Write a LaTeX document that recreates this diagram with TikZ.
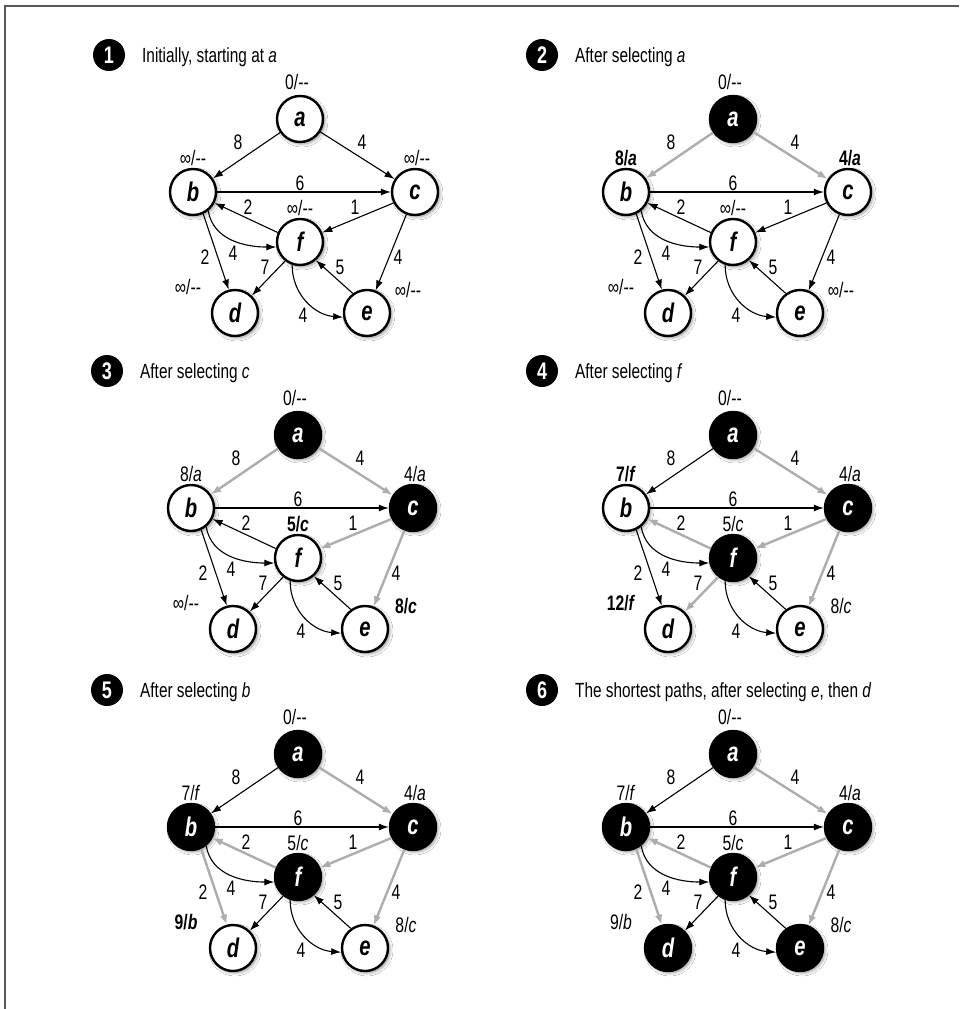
\documentclass[tikz,border=0pt]{standalone}
\usepackage{fontspec}
\setmainfont{Liberation Sans}[FakeStretch=0.75]
\usetikzlibrary{arrows.meta,shadows,shadows.blur}
\newcommand\nodash{-{}-}
\newcommand\infdist{∞/\nodash}
\tikzset{
  x=1pt,y=-1pt,
  vtx/.style={circle,draw=black,line width=2.4pt,minimum size=46pt,inner sep=0pt,
    font=\fontsize{27}{27}\selectfont\bfseries\itshape,
    blur shadow={shadow xshift=2pt,shadow yshift=-2pt,shadow blur radius=3pt,
      shadow blur steps=6,shadow opacity=40}},
  wnode/.style={vtx,fill=white,text=black},
  bnode/.style={vtx,fill=black,text=white},
  bedge/.style={draw=black,line width=1.1pt,-{Latex[length=10pt,width=7pt]}},
  gedge/.style={draw=black!32,line width=2.4pt,-{Latex[length=10pt,width=7.5pt]}},
  wt/.style={font=\fontsize{21}{21}\selectfont,inner sep=0pt},
  dl/.style={font=\fontsize{21}{21}\selectfont,inner sep=0pt},
  hdr/.style={font=\fontsize{20.5}{20.5}\selectfont,anchor=base west,inner sep=0pt},
  badge/.style={circle,fill=black,text=white,minimum size=32pt,inner sep=0pt,
    font=\fontsize{24}{24}\selectfont\bfseries},
  frame/.style={draw=black!65,line width=2pt},
  na/.style=wnode, nb/.style=wnode, nc/.style=wnode,
  nd/.style=wnode, ne/.style=wnode, nf/.style=wnode,
  eab/.style=bedge, eac/.style=bedge, ebc/.style=bedge, efb/.style=bedge,
  ecf/.style=bedge, ebf/.style=bedge, ebd/.style=bedge, efd/.style=bedge,
  ece/.style=bedge, eef/.style=bedge, efe/.style=bedge,
}
% #1 suffix, #2 header, #3 b, #4 c, #5 d, #6 e, #7 f
\newcommand\graphbody[7]{%
  \node[badge] (k#1) at (-191,-64) {#1};
  \node[hdr] (h#1) at (-158,-57) {#2};
  \node[na] (a#1) at (0,0) {a};
  \node[nb] (b#1) at (-107,73) {b};
  \node[nc] (c#1) at (115,73) {c};
  \node[nf] (f#1) at (0,123) {f};
  \node[nd] (d#1) at (-65,194) {d};
  \node[ne] (e#1) at (67,194) {e};
  \draw[eab] (a#1) -- (b#1);
  \draw[eac] (a#1) -- (c#1);
  \draw[ebc] (b#1) -- (c#1);
  \draw[efb] (f#1.157) -- (b#1.-27);
  \draw[ecf] (c#1.207) -- (f#1.23);
  \draw[ebf] (b#1.-51) .. controls +(5,30) and +(-30,0) .. (f#1.192);
  \draw[ebd] (b#1.-65) -- (d#1.105);
  \draw[efd] (f#1.232) -- (d#1.46);
  \draw[ece] (c#1.249) -- (e#1.69);
  \draw[eef] (e#1.126) -- (f#1.311);
  \draw[efe] (f#1.251) .. controls +(0,30) and +(-28,-2) .. (e#1.190);
  \node[wt] (wab#1) at (-62,23) {8};
  \node[wt] (wac#1) at (62,23) {4};
  \node[wt] (wbc#1) at (0,64) {6};
  \node[wt] (wfb#1) at (-52,88) {2};
  \node[wt] (wcf#1) at (55,88) {1};
  \node[wt] (wbd#1) at (-95,138) {2};
  \node[wt] (wbf#1) at (-67,134) {4};
  \node[wt] (wfd#1) at (-35,148) {7};
  \node[wt] (wef#1) at (40,148) {5};
  \node[wt] (wce#1) at (98,138) {4};
  \node[wt] (wfe#1) at (3,196) {4};
  \node[dl] (la#1) at (-3,-37) {0/\nodash};
  \node[dl] (lb#1) at (-107,39) {#3};
  \node[dl] (lc#1) at (117,39) {#4};
  \node[dl] (ld#1) at (-112,168) {#5};
  \node[dl] (le#1) at (108,171) {#6};
  \node[dl] (lf#1) at (0,89) {#7};
}
\begin{document}
\begin{tikzpicture}
\useasboundingbox (0,0) rectangle (959,1009);
\fill[white] (0,0) rectangle (959,1009);
\coordinate (fbl) at (5,1009);
\coordinate (ftl) at (5,6);
\coordinate (ftr) at (959,6);
\draw[frame] (fbl) -- (ftl) -- (ftr);

\begin{scope}[shift={(300,119)}]
  \graphbody{1}{Initially, starting at \textit{a}}{\infdist}{\infdist}{\infdist}{\infdist}{\infdist}
\end{scope}

\begin{scope}[shift={(733,119)},na/.style=bnode,eab/.style=gedge,eac/.style=gedge]
  \graphbody{2}{After selecting \textit{a}}{\textbf{8/\textit{a}}}{\textbf{4/\textit{a}}}{\infdist}{\infdist}{\infdist}
\end{scope}

\begin{scope}[shift={(298,435)},na/.style=bnode,nc/.style=bnode,
  eab/.style=gedge,eac/.style=gedge,ecf/.style=gedge,ece/.style=gedge]
  \graphbody{3}{After selecting \textit{c}}{8/\textit{a}}{4/\textit{a}}{\infdist}{\textbf{8/\textit{c}}}{\textbf{5/\textit{c}}}
\end{scope}

\begin{scope}[shift={(733,435)},na/.style=bnode,nc/.style=bnode,nf/.style=bnode,
  eac/.style=gedge,ecf/.style=gedge,ece/.style=gedge,efb/.style=gedge,efd/.style=gedge]
  \graphbody{4}{After selecting \textit{f}}{\textbf{7/\textit{f}}}{4/\textit{a}}{\textbf{12/\textit{f}}}{8/\textit{c}}{5/\textit{c}}
\end{scope}

\begin{scope}[shift={(298,754)},na/.style=bnode,nb/.style=bnode,nc/.style=bnode,nf/.style=bnode,
  eac/.style=gedge,ecf/.style=gedge,ece/.style=gedge,efb/.style=gedge,ebd/.style=gedge]
  \graphbody{5}{After selecting \textit{b}}{7/\textit{f}}{4/\textit{a}}{\textbf{9/\textit{b}}}{8/\textit{c}}{5/\textit{c}}
\end{scope}

\begin{scope}[shift={(733,754)},na/.style=bnode,nb/.style=bnode,nc/.style=bnode,nd/.style=bnode,
  ne/.style=bnode,nf/.style=bnode,
  eac/.style=gedge,ecf/.style=gedge,ece/.style=gedge,efb/.style=gedge,ebd/.style=gedge]
  \graphbody{6}{The shortest paths, after selecting \textit{e}, then \textit{d}}{7/\textit{f}}{4/\textit{a}}{9/\textit{b}}{8/\textit{c}}{5/\textit{c}}
\end{scope}
\end{tikzpicture}
\end{document}
